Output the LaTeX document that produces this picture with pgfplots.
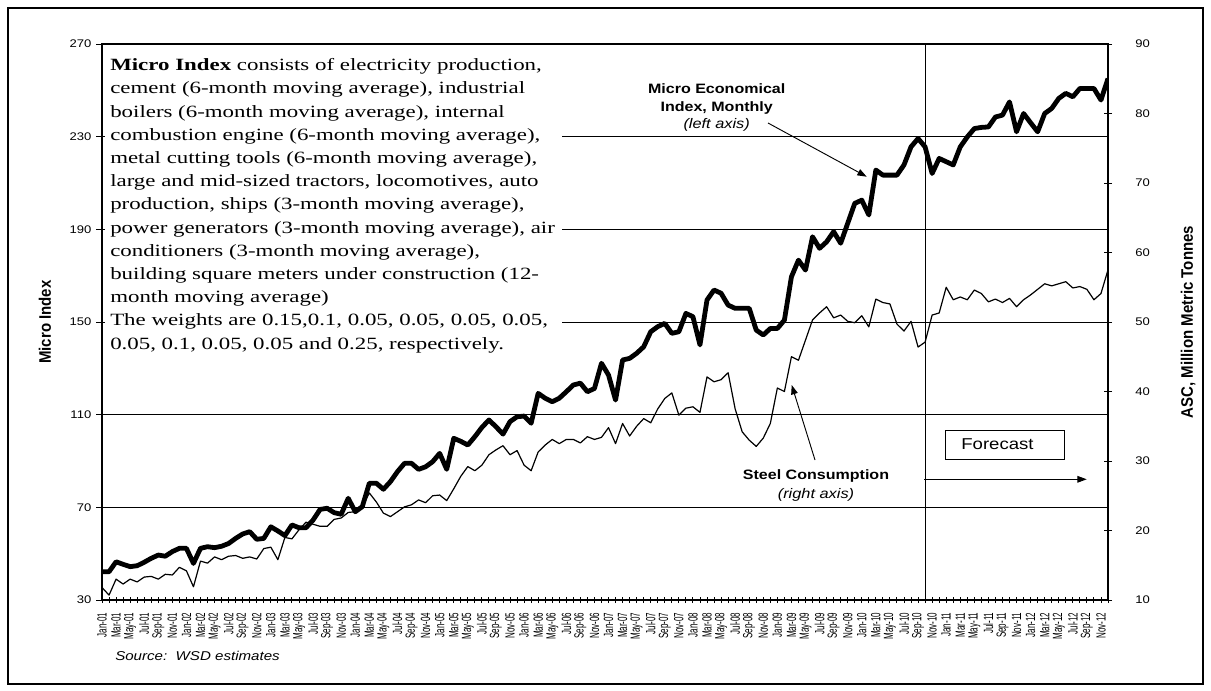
\documentclass[border=0pt]{standalone}
\usepackage{fontspec}
\usepackage{pgfplots}
\pgfplotsset{compat=1.18}
\usepackage{pgfplotstable}
\usetikzlibrary{arrows.meta}
\newfontfamily\hsans[FakeStretch=1.18]{Liberation Sans}
\newfontfamily\vsans[FakeStretch=0.6]{Liberation Sans}
\newfontfamily\tsans[FakeStretch=0.9]{Liberation Sans}
\newfontfamily\hserif[FakeStretch=1.33]{Liberation Serif}

\pgfplotstableread{
i m s
0 42.2 11.8
1 42.2 10.7
2 46.5 13.0
3 45.4 12.3
4 44.4 13.0
5 44.8 12.6
6 46.3 13.3
7 48.0 13.4
8 49.4 13.0
9 48.9 13.7
10 50.9 13.6
11 52.3 14.7
12 52.3 14.2
13 45.8 11.9
14 52.3 15.6
15 53.0 15.3
16 52.6 16.2
17 53.2 15.8
18 54.4 16.3
19 56.6 16.4
20 58.5 16.0
21 59.5 16.2
22 56.2 15.9
23 56.6 17.4
24 61.6 17.6
25 59.8 15.8
26 57.8 19.0
27 62.4 18.8
28 61.2 20.1
29 61.2 21.2
30 64.5 20.9
31 69.1 20.6
32 69.6 20.6
33 67.7 21.6
34 67.0 21.8
35 73.9 22.6
36 68.1 22.7
37 70.3 23.4
38 80.4 25.4
39 80.4 24.1
40 77.8 22.5
41 81.1 22.0
42 85.4 22.7
43 89.0 23.4
44 89.0 23.7
45 86.4 24.4
46 87.5 24.0
47 89.7 25.0
48 93.3 25.1
49 86.4 24.3
50 99.8 26.0
51 98.5 27.8
52 96.9 29.2
53 100.5 28.6
54 104.5 29.4
55 107.7 30.9
56 104.8 31.6
57 101.6 32.2
58 107.0 30.9
59 109.1 31.5
60 109.4 29.4
61 106.3 28.6
62 119.2 31.3
63 117.1 32.3
64 115.6 33.1
65 117.1 32.5
66 119.9 33.1
67 122.8 33.1
68 123.6 32.6
69 119.9 33.5
70 121.3 33.1
71 132.2 33.4
72 127.1 34.8
73 116.3 32.5
74 133.6 35.4
75 134.3 33.6
76 136.5 35.0
77 139.3 36.1
78 145.8 35.5
79 148.0 37.5
80 149.4 39.0
81 145.1 39.8
82 145.8 36.6
83 153.7 37.6
84 152.3 37.8
85 140.1 37.0
86 159.5 42.1
87 163.8 41.4
88 162.4 41.7
89 157.3 42.7
90 155.9 37.5
91 155.9 34.2
92 155.9 33.0
93 146.5 32.1
94 144.4 33.3
95 147.2 35.4
96 147.2 40.5
97 150.8 40.0
98 169.5 45.0
99 176.7 44.5
100 172.4 47.4
101 186.8 50.3
102 181.8 51.3
103 184.6 52.2
104 189.0 50.6
105 184.0 51.0
106 192.6 50.1
107 201.2 49.9
108 202.6 50.9
109 196.2 49.3
110 215.6 53.3
111 213.4 52.8
112 213.4 52.6
113 213.4 49.7
114 217.8 48.7
115 225.6 50.1
116 229.2 46.4
117 225.6 47.1
118 214.1 51.0
119 220.6 51.3
120 219.2 55.0
121 217.8 53.2
122 225.6 53.6
123 229.9 53.2
124 233.5 54.6
125 234.0 54.1
126 234.2 52.9
127 238.5 53.3
128 239.3 52.8
129 245.0 53.4
130 232.1 52.2
131 240.0 53.2
132 236.0 53.9
133 232.1 54.7
134 240.0 55.5
135 242.2 55.2
136 246.5 55.5
137 248.7 55.8
138 247.2 54.9
139 250.8 55.1
140 250.8 54.7
141 250.8 53.2
142 245.8 54.1
143 255.1 57.5
}\data

\begin{document}
\begin{tikzpicture}
\useasboundingbox (0,0) rectangle (908.25pt,517.5pt);
\begin{axis}[at={(76.5pt,67.5pt)}, anchor=south west, scale only axis,
  width=754.5pt, height=417pt,
  xmin=0, xmax=143, ymin=30, ymax=270,
  xtick={0,2,...,142}, minor xtick={1,3,...,143},
  xticklabels={Jan-01,Mar-01,May-01,Jul-01,Sep-01,Nov-01,Jan-02,Mar-02,May-02,Jul-02,Sep-02,Nov-02,Jan-03,Mar-03,May-03,Jul-03,Sep-03,Nov-03,Jan-04,Mar-04,May-04,Jul-04,Sep-04,Nov-04,Jan-05,Mar-05,May-05,Jul-05,Sep-05,Nov-05,Jan-06,Mar-06,May-06,Jul-06,Sep-06,Nov-06,Jan-07,Mar-07,May-07,Jul-07,Sep-07,Nov-07,Jan-08,Mar-08,May-08,Jul-08,Sep-08,Nov-08,Jan-09,Mar-09,May-09,Jul-09,Sep-09,Nov-09,Jan-10,Mar-10,May-10,Jul-10,Sep-10,Nov-10,Jan-11,Mar-11,May-11,Jul-11,Sep-11,Nov-11,Jan-12,Mar-12,May-12,Jul-12,Sep-12,Nov-12},
  ytick={30,70,...,270},
  tick pos=left,
  xtick align=center, ytick align=outside,
  major tick length=4.5pt, minor tick length=4.5pt,
  ymajorgrids, grid style={black, line width=0.7pt},
  axis line style={black, line width=0.9pt},
  every tick/.style={black, line width=0.7pt},
  x tick label style={rotate=90, anchor=east, font=\vsans\fontsize{10}{10}\selectfont, inner sep=0.5pt},
  xticklabel shift=6.5pt,
  y tick label style={font=\hsans\fontsize{8.3}{9}\selectfont},
  /pgf/number format/assume math mode=true,
]
\addplot[black, line width=3.6pt, line join=round] table[x=i,y=m]{\data};
\draw[black, line width=0.8pt] (axis cs:117,30) -- (axis cs:117,270);
\end{axis}
\begin{axis}[at={(76.5pt,67.5pt)}, anchor=south west, scale only axis,
  width=754.5pt, height=417pt,
  xmin=0, xmax=143, ymin=10, ymax=90,
  ytick={10,20,...,90},
  axis y line*=right, axis x line=none,
  ytick align=center, major tick length=6pt,
  axis line style={black, line width=0.9pt},
  every tick/.style={black, line width=0.7pt},
  y tick label style={font=\hsans\fontsize{8.3}{9}\selectfont},
  yticklabel shift=14pt,
  /pgf/number format/assume math mode=true,
]
\addplot[black, line width=0.9pt, line join=round] table[x=i,y=s]{\data};
\end{axis}
\begin{scope}[x=0.75pt, y=-0.75pt, yshift=517.5pt]
\draw[line width=0.8pt] (8,8) rectangle (1203,684);
\fill[white] (104.5,47) rectangle (562,362);
\begin{scope}[every node/.style={anchor=base west, inner sep=0pt, font=\hserif\fontsize{12.9}{17}\selectfont}]
\node at (110,70.7) {\textbf{Micro Index} consists of electricity production,};
\node at (110,93.9) {cement (6-month moving average), industrial};
\node at (110,117.1) {boilers (6-month moving average), internal};
\node at (110,140.3) {combustion engine (6-month moving average),};
\node at (110,163.5) {metal cutting tools (6-month moving average),};
\node at (110,186.7) {large and mid-sized tractors, locomotives, auto};
\node at (110,209.9) {production, ships (3-month moving average),};
\node at (110,233.1) {power generators (3-month moving average), air};
\node at (110,256.3) {conditioners (3-month moving average),};
\node at (110,279.5) {building square meters under construction (12-};
\node at (110,302.7) {month moving average)};
\node at (110,325.9) {The weights are 0.15,0.1, 0.05, 0.05, 0.05, 0.05,};
\node at (110,349.1) {0.05, 0.1, 0.05, 0.05 and 0.25, respectively.};
\end{scope}
\node[rotate=90, font=\tsans\bfseries\fontsize{12.5}{13}\selectfont] at (45,322) {Micro Index};
\node[rotate=90, font=\tsans\bfseries\fontsize{12.5}{13}\selectfont] at (1188,322) {ASC, Million Metric Tonnes};
\node[anchor=base, inner sep=0pt, font=\hsans\bfseries\fontsize{10.2}{11}\selectfont] at (716.7,93.3) {Micro Economical};
\node[anchor=base, inner sep=0pt, font=\hsans\bfseries\fontsize{10.2}{11}\selectfont] at (716.7,111.7) {Index, Monthly};
\node[anchor=base, inner sep=0pt, font=\hsans\itshape\fontsize{10.4}{11}\selectfont] at (716.7,128.3) {(left axis)};
\draw[line width=0.7pt, -{Triangle[length=7pt,width=5pt]}] (768,123) -- (866.7,176.7);
\node[anchor=base, inner sep=0pt, font=\hsans\bfseries\fontsize{10.2}{11}\selectfont] at (816,480) {Steel Consumption};
\node[anchor=base, inner sep=0pt, font=\hsans\itshape\fontsize{10.4}{11}\selectfont] at (816,498) {(right axis)};
\draw[line width=0.7pt, -{Triangle[length=7pt,width=5pt]}] (815,460) -- (791.7,385);
\draw[line width=0.7pt] (945,430) rectangle (1064,459);
\node[font=\hsans\fontsize{11.8}{12}\selectfont] at (997.5,444.5) {Forecast};
\draw[line width=0.7pt, -{Triangle[length=7pt,width=5pt]}] (924,479.3) -- (1086.7,479.3);
\node[anchor=base west, inner sep=0pt, font=\hsans\itshape\fontsize{9.6}{10}\selectfont] at (115,660) {Source:\ \ WSD estimates};
\end{scope}
\end{tikzpicture}
\end{document}
